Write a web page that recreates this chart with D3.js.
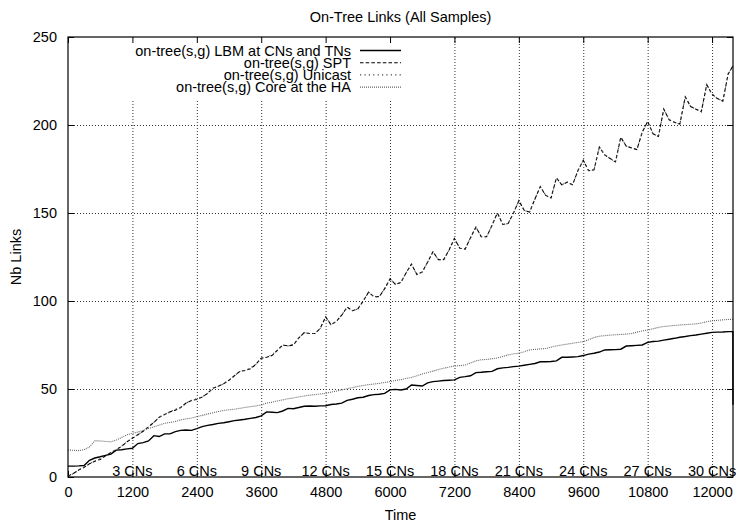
<!DOCTYPE html>
<html>
<head>
<meta charset="utf-8">
<script src="https://cdn.jsdelivr.net/npm/d3@7/dist/d3.min.js"></script>
<style>
body { margin: 0; background: #fff; }
text { font-family: "Liberation Sans", Arial, sans-serif; font-size: 14.5px; fill: #000; }
</style>
</head>
<body>
<div id="chart"></div>
<script>
// Chart data
var seriesNames = [
    "on-tree(s,g) LBM at CNs and TNs",
    "on-tree(s,g) SPT",
    "on-tree(s,g) Unicast",
    "on-tree(s,g) Core at the HA"
];

// sample times: every 100 s, plus the last two samples at the end of the run
var sampleTimes = d3.range(0, 12400, 100).concat([12388, 12390]);

var lbmValues = [
    6.2, 6.2, 6.3, 6.5, 9.5, 10.8, 11.5, 12.3, 13, 15.3,
    15.5, 16, 16.3, 19, 19.5, 20.5, 23.5, 23, 24.5, 24.5,
    25.8, 26.5, 26.7, 26.5, 27.5, 28.6, 29.3, 29.8, 30.5, 30.8,
    31.4, 32, 32.4, 32.8, 33.3, 33.8, 34.7, 37, 36.8, 36.6,
    37.5, 39, 38.8, 39.5, 40.2, 40.3, 40.2, 40.4, 40.5, 41.2,
    41.5, 42, 43.5, 44.2, 45, 45.3, 46.3, 46.8, 47, 47.5,
    49.5, 49.8, 49.4, 50, 52.3, 52, 51.7, 53.5, 54.2, 54.5,
    54.8, 55, 55.2, 56.6, 57, 57.5, 59.3, 59.5, 59.8, 60,
    61.5, 62, 62.3, 62.7, 63, 63.5, 64, 64.5, 65.5, 65.5,
    65.6, 66, 68, 68, 68.2, 68.4, 69, 69.8, 70.3, 71,
    72.2, 72.3, 72.4, 72.6, 74.4, 74.6, 74.8, 75, 76.5, 77,
    77.2, 77.8, 78.3, 78.8, 79.4, 79.8, 80.3, 80.7, 81.2, 81.7,
    82.2, 82.3, 82.4, 82.6,
    82.6, 41
];

var sptValues = [
    0.5, 2, 4, 5.5, 7.5, 9, 10, 12, 14, 15.5,
    17.5, 20, 22, 24, 26, 28.5, 31, 34, 35.5, 37,
    38, 39.5, 42, 43.5, 44, 45.5, 47.5, 50.5, 51.5, 53,
    55, 57.5, 60, 60.5, 61.5, 64, 67.5, 68, 69, 72,
    75, 74.5, 75, 79, 82, 81.5, 81.5, 84.5, 91, 86.5,
    88.5, 92, 96.5, 94.5, 95.5, 100, 105, 102.5, 102.5, 107,
    112.5, 109.5, 110.5, 116, 121, 115, 116.5, 122, 128, 123.5,
    123.5, 129, 135.5, 130, 129.5, 136, 142, 136.5, 136.5, 143,
    150, 143.5, 144, 150, 157, 151.5, 150.5, 158, 165, 160,
    158.5, 170, 166, 167.5, 166, 174, 180, 174, 174.5, 187.5,
    183, 181, 179, 193, 188, 187, 186, 196, 202, 195,
    193.5, 209, 203, 201.5, 200.5, 216, 210.5, 209, 207.5, 223,
    217.5, 215, 213.5, 229,
    233.5, 234
];

var unicastValues = [
    0.5, 2, 4, 5.5, 7.5, 9, 10.5, 12, 14, 15.5,
    17.5, 20, 22.5, 24, 26, 28.5, 31, 34, 35.5, 37,
    38.5, 39.5, 42, 43.5, 44.5, 45.5, 47.5, 50.5, 51.5, 53,
    55, 57.5, 60, 60.5, 62, 64, 67.5, 68, 69.5, 72,
    75, 74.5, 75.5, 79, 82, 81.5, 81.5, 84.5, 91, 86.5,
    88.5, 92, 96.5, 94.5, 95.5, 100, 105, 102.5, 102.5, 107,
    112.5, 109.5, 110.5, 116, 121, 115, 116.5, 122, 128, 123.5,
    123.5, 129, 135.5, 130, 129.5, 136, 142, 136.5, 136.5, 143,
    150, 143.5, 144, 150, 157, 151.5, 150.5, 158, 165, 160,
    158.5, 170, 166, 167.5, 166, 174, 180, 174, 174.5, 187.5,
    183, 181, 179, 193, 188, 187, 186, 196, 202, 195,
    193.5, 209, 203, 201.5, 200.5, 216, 210.5, 209, 207.5, 223,
    217.5, 215, 213.5, 229,
    233.5, 234
];

var coreValues = [
    15.3, 15.2, 15, 15.5, 17, 20.5, 20.5, 20.2, 20, 21,
    22.5, 24, 24.8, 25.5, 26.5, 27.5, 28.5, 29.5, 30.5, 31,
    31.5, 32.5, 33, 33.5, 34.3, 35, 35.8, 36.5, 37.2, 37.8,
    38.2, 38.5, 39, 39.5, 40, 40.4, 40.9, 42, 42.5, 43.2,
    43.8, 44.5, 44.9, 45.5, 46, 46.5, 46.8, 47.2, 47.5, 48.2,
    48.8, 49.5, 50.2, 50.8, 51.5, 52, 52.5, 52.8, 53.2, 53.7,
    54.2, 54.8, 55.3, 56, 56.6, 57.5, 58.5, 59.3, 60.2, 61,
    61.8, 62.5, 63, 63.3, 63.6, 64.8, 66, 66.6, 66.8, 67.2,
    67.6, 68.5, 69.3, 70, 70.3, 71.2, 72.2, 72.5, 72.8, 73,
    73.8, 74.5, 75, 75.5, 76, 76.5, 76.9, 78, 79.3, 80,
    80.3, 80.6, 80.8, 81, 81.2, 81.5, 82.3, 83, 83.5, 84.2,
    85, 85.5, 85.8, 86.1, 86.4, 86.6, 86.8, 87, 87.5, 88.2,
    88.8, 89, 89.3, 89.5,
    89.6, 89.6
];

var xTickValues = [0, 1200, 2400, 3600, 4800, 6000, 7200, 8400, 9600, 10800, 12000];
var yTickValues = [0, 50, 100, 150, 200, 250];
var cnLabels = ["3 CNs", "6 CNs", "9 CNs", "12 CNs", "15 CNs", "18 CNs", "21 CNs", "24 CNs", "27 CNs", "30 CNs"];
var cnTimes = [1200, 2400, 3600, 4800, 6000, 7200, 8400, 9600, 10800, 12000];

//Set up the box for the SVG components
var svgWidth = 736;
var svgHeight = 527;

var margin = {
    top: 37,
    right: 3,
    bottom: 50,
    left: 68
};

var width = svgWidth - margin.left - margin.right;
var height = svgHeight - margin.top - margin.bottom;

var svg = d3.select("#chart")
    .append("svg")
    .attr("width", svgWidth)
    .attr("height", svgHeight);

var chartGroup = svg.append("g")
    .attr("transform", `translate(${margin.left}, ${margin.top})`);

// Scales
var xScale = d3.scaleLinear()
    .domain([0, 12390])
    .range([0, width]);

var yScale = d3.scaleLinear()
    .domain([0, 250])
    .range([height, 0]);

// Grid lines (dotted)
chartGroup.append("g")
    .attr("transform", `translate(0, ${height})`)
    .call(d3.axisBottom(xScale).tickValues(xTickValues.slice(1)).tickSize(-height).tickFormat(""));

chartGroup.append("g")
    .call(d3.axisLeft(yScale).tickValues(yTickValues.slice(1, -1)).tickSize(-width).tickFormat(""));

chartGroup.selectAll(".domain").remove();
chartGroup.selectAll(".tick line")
    .attr("stroke", "#333")
    .attr("stroke-width", 1)
    .attr("stroke-dasharray", "1,2");

// the key hides the grid behind it
chartGroup.append("rect")
    .attr("x", 40)
    .attr("y", 1)
    .attr("width", 297)
    .attr("height", 62)
    .attr("fill", "#fff");

// Tick marks on all four sides
var bottomAxis = d3.axisBottom(xScale).tickValues(xTickValues).tickSizeInner(-6).tickSizeOuter(0).tickPadding(10).tickFormat(d3.format("d"));
var topAxis = d3.axisTop(xScale).tickValues(xTickValues).tickSizeInner(-6).tickSizeOuter(0).tickFormat("");
var leftAxis = d3.axisLeft(yScale).tickValues(yTickValues).tickSizeInner(-6).tickSizeOuter(0).tickPadding(11);
var rightAxis = d3.axisRight(yScale).tickValues(yTickValues).tickSizeInner(-6).tickSizeOuter(0).tickFormat("");

chartGroup.append("g")
    .attr("class", "axis")
    .attr("transform", `translate(0, ${height})`)
    .call(bottomAxis);

chartGroup.append("g").attr("class", "axis").call(topAxis);
chartGroup.append("g").attr("class", "axis").call(leftAxis);
chartGroup.append("g").attr("class", "axis").attr("transform", `translate(${width}, 0)`).call(rightAxis);

chartGroup.selectAll(".axis .domain").remove();
chartGroup.selectAll(".axis .tick line").attr("stroke", "#000");
chartGroup.selectAll(".axis text")
    .attr("font-family", "Liberation Sans, Arial, sans-serif")
    .attr("font-size", 14.5)
    .attr("fill", "#000");

// CN count labels sitting on the x axis
chartGroup.selectAll(".cnLabel")
    .data(cnTimes)
    .enter()
    .append("text")
    .attr("class", "cnLabel")
    .attr("x", d => xScale(d))
    .attr("y", height - 1)
    .attr("text-anchor", "middle")
    .text((d, i) => cnLabels[i]);

// Series lines
var lineGen = d3.line()
    .x((d, i) => xScale(sampleTimes[i]))
    .y(d => yScale(d));

var styles = [
    { values: lbmValues, stroke: "#000", width: 1.4, dash: null },
    { values: sptValues, stroke: "#000", width: 1.1, dash: "3.5,2.2" },
    { values: unicastValues, stroke: "#444", width: 1.1, dash: "1.2,3.2" },
    { values: coreValues, stroke: "#666", width: 1.1, dash: "1,1" }
];

styles.forEach(function(s) {
    chartGroup.append("path")
        .datum(s.values)
        .attr("fill", "none")
        .attr("stroke", s.stroke)
        .attr("stroke-width", s.width)
        .attr("stroke-dasharray", s.dash)
        .attr("d", lineGen);
});

// Plot border
chartGroup.append("rect")
    .attr("x", 0)
    .attr("y", 0)
    .attr("width", width)
    .attr("height", height)
    .attr("fill", "none")
    .attr("stroke", "#000")
    .attr("stroke-width", 1.2);

// Key
var keyGroup = chartGroup.append("g");
styles.forEach(function(s, i) {
    var rowY = 13.5 + i * 12.2;
    keyGroup.append("text")
        .attr("x", 283)
        .attr("y", rowY + 5)
        .attr("text-anchor", "end")
        .text(seriesNames[i]);
    keyGroup.append("line")
        .attr("x1", 292)
        .attr("x2", 333)
        .attr("y1", rowY)
        .attr("y2", rowY)
        .attr("stroke", s.stroke)
        .attr("stroke-width", s.width)
        .attr("stroke-dasharray", s.dash);
});

// Title and axis labels
svg.append("text")
    .attr("x", margin.left + width / 2)
    .attr("y", 22)
    .attr("text-anchor", "middle")
    .text("On-Tree Links (All Samples)");

svg.append("text")
    .attr("x", margin.left + width / 2)
    .attr("y", 520)
    .attr("text-anchor", "middle")
    .text("Time");

svg.append("text")
    .attr("transform", `translate(21, ${margin.top + height / 2}) rotate(-90)`)
    .attr("text-anchor", "middle")
    .text("Nb Links");
</script>
</body>
</html>
